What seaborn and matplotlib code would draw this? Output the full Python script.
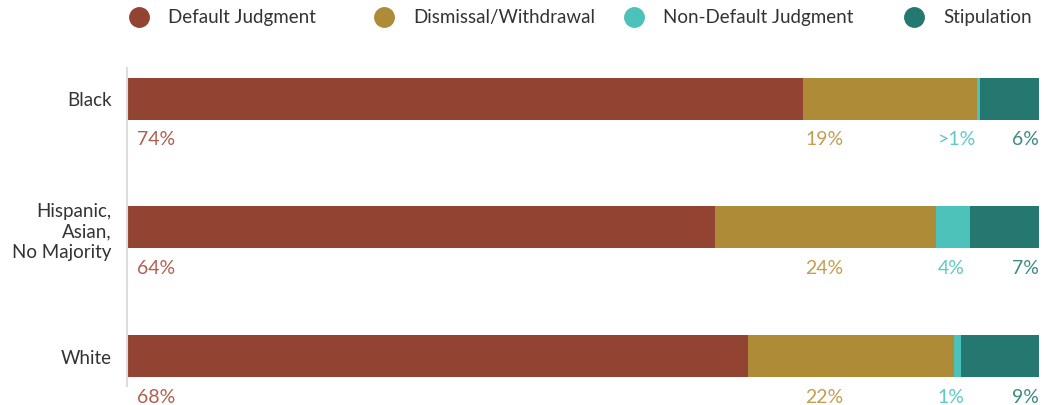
import matplotlib
matplotlib.use("Agg")
import matplotlib.pyplot as plt
from matplotlib.lines import Line2D
import seaborn as sns
import pandas as pd
import numpy as np

# Case outcomes by neighborhood racial composition (share of cases, %)
groups = ["Black", "Hispanic,\nAsian,\nNo Majority", "White"]
default_judgment = [74.2, 64.5, 68.1]
dismissal_withdrawal = [19.1, 24.2, 22.6]
non_default_judgment = [0.3, 3.8, 0.8]
stipulation = [6.4, 7.5, 8.5]

outcomes = ["Default Judgment", "Dismissal/Withdrawal", "Non-Default Judgment", "Stipulation"]
label_text = [
    ["74%", "64%", "68%"],
    ["19%", "24%", "22%"],
    [">1%", "4%", "1%"],
    ["6%", "7%", "9%"],
]

bar_colors = ["#934332", "#AE8B37", "#4DC2BA", "#247870"]
text_colors = ["#B0604F", "#C39E4E", "#5ECBC3", "#3D8A84"]

sns.set_theme(style="white")
plt.rcParams["font.family"] = ["Lato", "DejaVu Sans"]

df = pd.DataFrame({
    "group": groups,
    outcomes[0]: default_judgment,
    outcomes[1]: dismissal_withdrawal,
    outcomes[2]: non_default_judgment,
    outcomes[3]: stipulation,
})

fig = plt.figure(figsize=(10.44, 4.06), dpi=100)
W, H = 1044, 406
ax = fig.add_axes([127 / W, 1 - 387 / H, (1038.5 - 127) / W, (387 - 69) / H])

# Stacked bars: draw cumulative totals from the outermost segment inward
cum = df[outcomes].cumsum(axis=1)
for i in reversed(range(len(outcomes))):
    sns.barplot(data=cum.assign(group=df["group"]), x=outcomes[i], y="group",
                orient="h", color=bar_colors[i], width=42 / 129,
                saturation=1, ax=ax, edgecolor="none", linewidth=0)

ax.set_xlim(0, 100)
ax.set_ylim(2 + (387 - 357.5) / 129, -(99.5 - 69) / 129)
ax.set_xlabel("")
ax.set_ylabel("")
ax.set_xticks([])
ax.tick_params(axis="y", length=0, pad=11, labelsize=13.5, labelcolor="#333333")
for lab in ax.get_yticklabels():
    lab.set_horizontalalignment("right")
    lab.set_multialignment("right")
    lab.set_linespacing(1.25)
for side in ["top", "right", "bottom"]:
    ax.spines[side].set_visible(False)
ax.spines["left"].set_color("#DDDDDD")
ax.spines["left"].set_linewidth(1.5)

# Percentage labels in fixed columns below each bar
label_x = [1.1, 74.4, 88.9, 100.0]
label_ha = ["left", "left", "left", "right"]
for k in range(len(outcomes)):
    for j in range(len(groups)):
        ax.text(label_x[k], j + 40 / 129, label_text[k][j], color=text_colors[k],
                fontsize=14, ha=label_ha[k], va="center")

# Legend row across the top
legend_x = [139, 384, 634, 914]
for name, col, lx in zip(outcomes, bar_colors, legend_x):
    fig.add_artist(Line2D([lx / W], [1 - 18 / H], marker="o", markersize=14,
                          color=col, linestyle="none", transform=fig.transFigure))
    fig.text((lx + 29) / W, 1 - 18 / H, name, fontsize=13.5, color="#333333",
             ha="left", va="center")

fig.savefig("out.png", dpi=100)
